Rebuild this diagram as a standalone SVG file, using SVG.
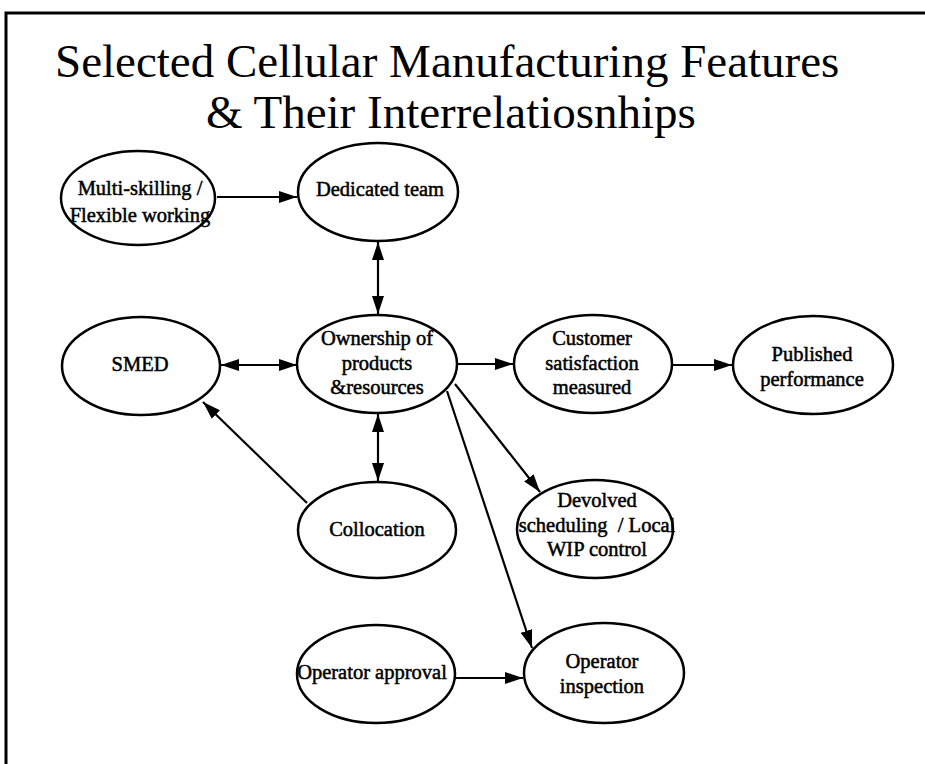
<svg xmlns="http://www.w3.org/2000/svg" width="925" height="764" viewBox="0 0 925 764">
  <style>
    .frame { fill: none; stroke: #000; stroke-width: 3; }
    .title { font-family: "Liberation Serif", "Times New Roman", serif; font-size: 47px; fill: #000; }
    .node ellipse { fill: #fff; stroke: #000; stroke-width: 2.5; }
    .node text { font-family: "Liberation Serif", "Times New Roman", serif; font-size: 20.5px; fill: #000; text-anchor: middle; stroke: #000; stroke-width: 0.5; white-space: pre; }
    .edge { fill: none; stroke: #000; stroke-width: 2.2; }
  </style>
  <defs>
    <marker id="head" viewBox="0 0 18 12" refX="18" refY="6" markerWidth="18" markerHeight="12" markerUnits="userSpaceOnUse" orient="auto-start-reverse">
      <path d="M0,0 L18,6 L0,12 Z" fill="#000"/>
    </marker>
  </defs>

  <rect width="925" height="764" fill="#fff"/>
  <path class="frame" d="M6,764 V13 H925"/>

  <text class="title" x="55" y="77">Selected Cellular Manufacturing Features</text>
  <text class="title" x="206" y="128">&amp; Their Interrelatiosnhips</text>

  <g id="connectors">
    <line class="edge" x1="217" y1="197" x2="297" y2="197" marker-end="url(#head)"/>
    <line class="edge" x1="378" y1="242" x2="378" y2="314" marker-start="url(#head)" marker-end="url(#head)"/>
    <line class="edge" x1="221" y1="365" x2="297" y2="365" marker-start="url(#head)" marker-end="url(#head)"/>
    <line class="edge" x1="458" y1="364" x2="513" y2="364" marker-end="url(#head)"/>
    <line class="edge" x1="673" y1="365" x2="732" y2="365" marker-end="url(#head)"/>
    <line class="edge" x1="378" y1="414" x2="378" y2="481" marker-start="url(#head)" marker-end="url(#head)"/>
    <line class="edge" x1="307" y1="503" x2="203" y2="402" marker-end="url(#head)"/>
    <line class="edge" x1="455" y1="384" x2="540" y2="492" marker-end="url(#head)"/>
    <line class="edge" x1="447" y1="391" x2="532" y2="648" marker-end="url(#head)"/>
    <line class="edge" x1="455" y1="678" x2="523" y2="678" marker-end="url(#head)"/>
  </g>

  <g id="multi-skilling" class="node">
    <ellipse cx="138" cy="198" rx="77" ry="47"/>
    <text x="140" y="195">Multi-skilling /</text>
    <text x="140" y="222">Flexible working</text>
  </g>

  <g id="dedicated-team" class="node">
    <ellipse cx="378" cy="192" rx="80" ry="49"/>
    <text x="380" y="196">Dedicated team</text>
  </g>

  <g id="smed" class="node">
    <ellipse cx="141" cy="366" rx="79" ry="49"/>
    <text x="140" y="371">SMED</text>
  </g>

  <g id="ownership" class="node">
    <ellipse cx="377" cy="364" rx="80" ry="49"/>
    <text x="377" y="345">Ownership of</text>
    <text x="377" y="370">products</text>
    <text x="377" y="394">&amp;resources</text>
  </g>

  <g id="customer-satisfaction" class="node">
    <ellipse cx="593" cy="364" rx="79" ry="49"/>
    <text x="592" y="345">Customer</text>
    <text x="592" y="370">satisfaction</text>
    <text x="592" y="394">measured</text>
  </g>

  <g id="published-performance" class="node">
    <ellipse cx="813" cy="365" rx="80" ry="49"/>
    <text x="812" y="361">Published</text>
    <text x="812" y="386">performance</text>
  </g>

  <g id="collocation" class="node">
    <ellipse cx="377" cy="530" rx="79" ry="48"/>
    <text x="377" y="536">Collocation</text>
  </g>

  <g id="devolved-scheduling" class="node">
    <ellipse cx="595" cy="529" rx="78" ry="49"/>
    <text x="597" y="507">Devolved</text>
    <text x="597" y="532">scheduling  / Local</text>
    <text x="597" y="556">WIP control</text>
  </g>

  <g id="operator-approval" class="node">
    <ellipse cx="376" cy="674" rx="79" ry="49"/>
    <text x="372" y="679">Operator approval</text>
  </g>

  <g id="operator-inspection" class="node">
    <ellipse cx="604" cy="673" rx="80" ry="50"/>
    <text x="602" y="668">Operator</text>
    <text x="602" y="693">inspection</text>
  </g>
</svg>
